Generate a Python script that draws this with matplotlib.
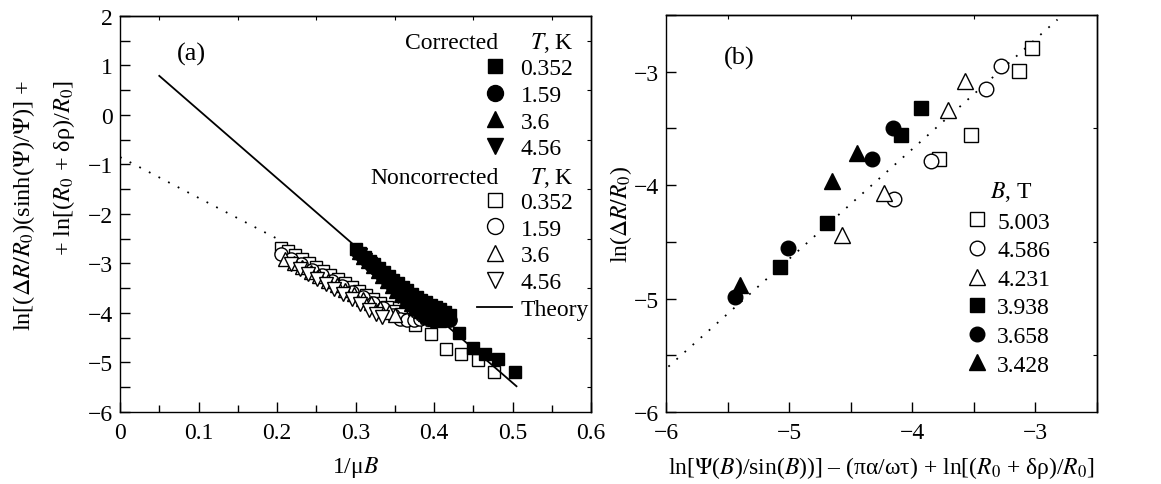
"""
Two-panel log plot: corrected / noncorrected magnetoresistance vs 1/muB (a)
and ln(dR/R0) vs the combined scaling variable (b).
"""
import matplotlib
matplotlib.use('Agg')
import matplotlib.pyplot as plt
from matplotlib.lines import Line2D

plt.rcParams['font.family'] = ['Liberation Serif', 'DejaVu Serif']
plt.rcParams['mathtext.fontset'] = 'stix'
plt.rcParams['font.size'] = 17
plt.rcParams['axes.linewidth'] = 1.0

# ---- panel (a) data -------------------------------------------------------
temps = ['0.352', '1.59', '3.6', '4.56']

# corrected (filled markers)
corr_x = {
    '0.352': [0.300, 0.306, 0.312, 0.318, 0.324, 0.330, 0.336, 0.342, 0.348, 0.354,
              0.360, 0.366, 0.372, 0.378, 0.384, 0.390, 0.396, 0.402, 0.408, 0.414,
              0.420, 0.432, 0.450, 0.465, 0.482, 0.503],
    '1.59': [0.302, 0.308, 0.314, 0.320, 0.326, 0.332, 0.338, 0.344, 0.350, 0.356,
             0.362, 0.368, 0.374, 0.380, 0.386, 0.392, 0.398, 0.404, 0.410, 0.416, 0.420],
    '3.6': [0.304, 0.310, 0.316, 0.322, 0.328, 0.334, 0.340, 0.346, 0.352, 0.358,
            0.364, 0.370, 0.376, 0.382, 0.388, 0.394, 0.400, 0.406],
    '4.56': [0.306, 0.312, 0.318, 0.324, 0.330, 0.336, 0.342, 0.348, 0.354, 0.360,
             0.366, 0.372, 0.378, 0.384, 0.390, 0.396],
}
corr_y = {
    '0.352': [-2.70, -2.78, -2.86, -2.94, -3.02, -3.10, -3.18, -3.26, -3.33, -3.40,
              -3.47, -3.54, -3.61, -3.67, -3.73, -3.78, -3.83, -3.87, -3.92, -3.98,
              -4.05, -4.41, -4.70, -4.83, -4.93, -5.19],
    '1.59': [-2.74, -2.84, -2.94, -3.03, -3.12, -3.21, -3.30, -3.39, -3.48, -3.56,
             -3.64, -3.72, -3.80, -3.87, -3.94, -4.00, -4.05, -4.09, -4.12, -4.14, -4.15],
    '3.6': [-2.76, -2.86, -2.96, -3.06, -3.16, -3.26, -3.36, -3.46, -3.55, -3.64,
            -3.73, -3.81, -3.89, -3.96, -4.03, -4.08, -4.12, -4.15],
    '4.56': [-2.82, -2.92, -3.02, -3.12, -3.24, -3.34, -3.45, -3.56, -3.66, -3.76,
             -3.84, -3.93, -4.00, -4.08, -4.13, -4.16],
}

# noncorrected (open markers)
raw_x = {
    '0.352': [0.205, 0.214, 0.223, 0.232, 0.241, 0.250, 0.259, 0.268, 0.277, 0.286,
              0.295, 0.304, 0.313, 0.322, 0.331, 0.340, 0.349, 0.358, 0.367, 0.376,
              0.396, 0.415, 0.434, 0.456, 0.476],
    '1.59': [0.205, 0.218, 0.231, 0.244, 0.257, 0.270, 0.283, 0.296, 0.309, 0.322,
             0.335, 0.348, 0.357, 0.366, 0.374, 0.382],
    '3.6': [0.210, 0.221, 0.232, 0.243, 0.254, 0.265, 0.276, 0.287, 0.298, 0.309,
            0.320, 0.331, 0.342, 0.350],
    '4.56': [0.218, 0.229, 0.240, 0.251, 0.262, 0.273, 0.284, 0.295, 0.306, 0.317,
             0.326, 0.334],
}
raw_y = {
    '0.352': [-2.68, -2.75, -2.83, -2.91, -2.99, -3.07, -3.15, -3.23, -3.31, -3.39,
              -3.47, -3.55, -3.63, -3.71, -3.79, -3.87, -3.95, -4.03, -4.12, -4.25,
              -4.43, -4.72, -4.83, -4.96, -5.20],
    '1.59': [-2.80, -2.91, -3.02, -3.13, -3.24, -3.35, -3.46, -3.57, -3.68, -3.79,
             -3.90, -4.05, -4.13, -4.15, -4.15, -4.13],
    '3.6': [-2.90, -2.99, -3.08, -3.17, -3.26, -3.35, -3.44, -3.53, -3.62, -3.71,
            -3.80, -3.89, -3.98, -4.05],
    '4.56': [-3.02, -3.12, -3.22, -3.32, -3.42, -3.52, -3.62, -3.72, -3.82, -3.93,
             -4.02, -4.08],
}

theory_x = [0.05, 0.505]
theory_y = [0.79, -5.48]
dotted_a_x = [0.0, 0.205]
dotted_a_y = [-0.85, -2.54]

# ---- panel (b) data -------------------------------------------------------
fields = ['5.003', '4.586', '4.231', '3.938', '3.658', '3.428']
b_x = {
    '5.003': [-3.03, -3.13, -3.52, -3.78],
    '4.586': [-3.28, -3.40, -3.85, -4.15],
    '4.231': [-3.57, -3.71, -4.23, -4.57],
    '3.938': [-3.93, -4.09, -4.69, -5.07],
    '3.658': [-4.16, -4.33, -5.01, -5.44],
    '3.428': [-4.45, -4.65, -5.40],
}
b_y = {
    '5.003': [-2.79, -2.99, -3.56, -3.77],
    '4.586': [-2.95, -3.15, -3.79, -4.12],
    '4.231': [-3.08, -3.34, -4.07, -4.44],
    '3.938': [-3.32, -3.56, -4.33, -4.72],
    '3.658': [-3.50, -3.77, -4.55, -4.99],
    '3.428': [-3.72, -3.96, -4.88],
}
dotted_b_x = [-5.98, -2.82]
dotted_b_y = [-5.60, -2.54]

MARKERS_A = {'0.352': 's', '1.59': 'o', '3.6': '^', '4.56': 'v'}
MARKERS_B = {'5.003': ('s', 'white'), '4.586': ('o', 'white'), '4.231': ('^', 'white'),
             '3.938': ('s', 'black'), '3.658': ('o', 'black'), '3.428': ('^', 'black')}
MSIZE_A = {'s': 8.5, 'o': 9.5, '^': 10, 'v': 10}
MSIZE_B = {'s': 9.5, 'o': 10.5, '^': 12}

DOTS = (0, (1, 5))


def style_ticks(ax, xmaj, xmin, ymaj, ymin):
    ax.set_xticks(xmaj)
    ax.set_xticks(xmin, minor=True)
    ax.set_yticks(ymaj)
    ax.set_yticks(ymin, minor=True)
    ax.tick_params(which='both', direction='in', top=False, right=False, width=1.0)
    ax.tick_params(axis='x', which='both', pad=7)
    ax.tick_params(axis='y', which='both', pad=5)
    ax.tick_params(which='major', length=7)
    ax.tick_params(which='minor', length=5)
    # short ticks along top and right frame
    top = ax.secondary_xaxis('top')
    top.set_xticks(xmin)
    top.tick_params(direction='in', length=3, labeltop=False)
    right = ax.secondary_yaxis('right')
    right.set_yticks(ymin)
    right.tick_params(direction='in', length=3, labelright=False)


fig = plt.figure(figsize=(11.61, 4.85), dpi=100)
ax_a = fig.add_axes([0.1034, 0.1485, 0.4057, 0.8165])
ax_b = fig.add_axes([0.5736, 0.1485, 0.3712, 0.8185])

# ---------------- panel (a) ----------------
ax_a.plot(dotted_a_x, dotted_a_y, color='black', lw=1.3, linestyle=DOTS)
for t in temps:
    m = MARKERS_A[t]
    ax_a.plot(raw_x[t], raw_y[t], linestyle='none', marker=m, ms=MSIZE_A[m],
              mfc='white', mec='black', mew=1.0)
for t in temps:
    m = MARKERS_A[t]
    ax_a.plot(corr_x[t], corr_y[t], linestyle='none', marker=m, ms=MSIZE_A[m],
              mfc='black', mec='black', mew=1.0)
ax_a.plot(theory_x, theory_y, color='black', lw=1.3)

ax_a.set_xlim(0, 0.6)
ax_a.set_ylim(-6, 2)
style_ticks(ax_a,
            [0, 0.1, 0.2, 0.3, 0.4, 0.5, 0.6],
            [0.05, 0.15, 0.25, 0.35, 0.45, 0.55],
            [-6, -5, -4, -3, -2, -1, 0, 1, 2],
            [-5.5, -4.5, -3.5, -2.5, -1.5, -0.5, 0.5, 1.5])
ax_a.set_xticklabels(['0', '0.1', '0.2', '0.3', '0.4', '0.5', '0.6'])
ax_a.set_yticklabels(['\u22126', '\u22125', '\u22124', '\u22123', '\u22122', '\u22121', '0', '1', '2'])
ax_a.tick_params(axis='y', which='minor', length=7)
ax_a.set_xlabel('1/\u03bc$B$', labelpad=8)
ax_a.text(0.152, 0.905, '(a)', transform=ax_a.transAxes, ha='center', va='center', fontsize=19)

fig.text(0.021, 0.835, r'ln[($\Delta R/R_0$)(sinh($\Psi$)/$\Psi$)] +',
         rotation=90, ha='center', va='top', fontsize=17.5)
fig.text(0.055, 0.835, '+ ln[($R_0$ + \u03b4\u03c1)/$R_0$]',
         rotation=90, ha='center', va='top', fontsize=17.5)

blank = Line2D([], [], linestyle='none', marker='none')
handles_a = [blank]
labels_a = [' ']
for t in temps:
    m = MARKERS_A[t]
    handles_a.append(Line2D([], [], linestyle='none', marker=m, ms=MSIZE_A[m] + 2,
                            mfc='black', mec='black'))
    labels_a.append(t)
handles_a.append(blank)
labels_a.append(' ')
for t in temps:
    m = MARKERS_A[t]
    handles_a.append(Line2D([], [], linestyle='none', marker=m, ms=MSIZE_A[m] + 2,
                            mfc='white', mec='black', mew=1.0))
    labels_a.append(t)
handles_a.append(Line2D([], [], color='black', lw=1.3))
labels_a.append('Theory')
ax_a.legend(handles_a, labels_a, loc='upper left', bbox_to_anchor=(0.758, 0.962),
            frameon=False, borderpad=0, borderaxespad=0, handlelength=1.5,
            handletextpad=0.34, labelspacing=0.22)
ax_a.text(0.803, 0.934, 'Corrected', transform=ax_a.transAxes, ha='right', va='center')
ax_a.text(0.870, 0.934, r'$T$, K', transform=ax_a.transAxes, ha='left', va='center')
ax_a.text(0.803, 0.593, 'Noncorrected', transform=ax_a.transAxes, ha='right', va='center')
ax_a.text(0.870, 0.593, r'$T$, K', transform=ax_a.transAxes, ha='left', va='center')

# ---------------- panel (b) ----------------
ax_b.plot(dotted_b_x, dotted_b_y, color='black', lw=1.3, linestyle=DOTS)
handles_b = []
for f in fields:
    m, fc = MARKERS_B[f]
    h, = ax_b.plot(b_x[f], b_y[f], linestyle='none', marker=m, ms=MSIZE_B[m],
                   mfc=fc, mec='black', mew=1.0, label=f)
    handles_b.append(h)

ax_b.set_xlim(-6, -2.5)
ax_b.set_ylim(-6, -2.5)
style_ticks(ax_b,
            [-6, -5, -4, -3],
            [-5.5, -4.5, -3.5, -2.5],
            [-6, -5, -4, -3],
            [-5.5, -4.5, -3.5, -2.5])
ax_b.set_xticklabels(['\u22126', '\u22125', '\u22124', '\u22123'])
ax_b.set_yticklabels(['\u22126', '\u22125', '\u22124', '\u22123'])
ax_b.tick_params(which='both', length=7)
ax_b.set_xlabel('ln[$\\Psi$($B$)/sin($B$))] \u2013 (\u03c0\u03b1/\u03c9\u03c4) + '
                'ln[($R_0$ + \u03b4\u03c1)/$R_0$]', labelpad=8)
ax_b.set_ylabel(r'ln($\Delta R/R_0$)', labelpad=0)
ax_b.text(0.169, 0.894, '(b)', transform=ax_b.transAxes, ha='center', va='center', fontsize=19)

ax_b.legend(handles_b, fields, loc='upper left', bbox_to_anchor=(0.689, 0.506),
            frameon=False, borderpad=0, borderaxespad=0, handlelength=1.2,
            handletextpad=0.25, labelspacing=0.3)
ax_b.text(0.752, 0.557, r'$B$, T', transform=ax_b.transAxes, ha='left', va='center')

fig.savefig('out.png', dpi=100)
